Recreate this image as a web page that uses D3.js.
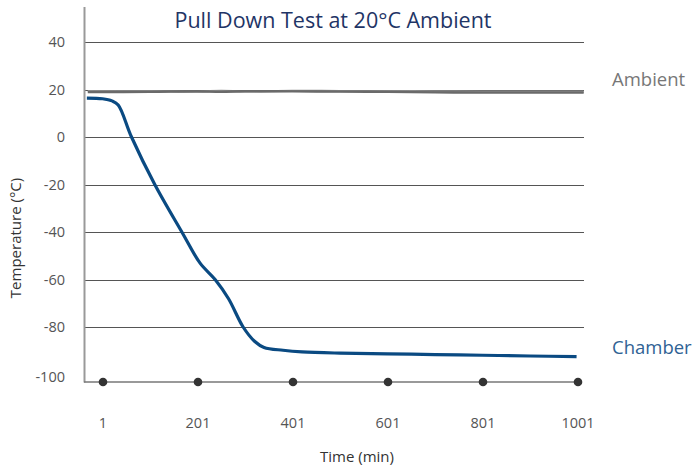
<!DOCTYPE html>
<html><head><meta charset="utf-8">
<script src="https://cdn.jsdelivr.net/npm/d3@7"></script>
<style>body{margin:0;background:#fff}svg{display:block}text{font-family:"Open Sans",sans-serif}</style>
</head><body>
<svg id="c" width="694" height="468"></svg>
<script>
const yTicks = [40, 20, 0, -20, -40, -60, -80, -100];
const xTicks = [1, 201, 401, 601, 801, 1001];
const chamberTime = [-33,0,20,33,61,110,167,205,237,265,296,320,340,380,420,500,600,700,800,900,998];
const chamberTemp = [16.4,16.1,15.2,13.5,0,-20,-40,-53,-60,-68,-80,-86,-88.6,-89.8,-90.5,-91,-91.3,-91.6,-91.9,-92.2,-92.5];
const ambientTime = [-31,100,200,250,300,400,500,600,700,800,900,1013];
const ambientA = [18.9,19.0,19.2,19.0,19.3,19.2,19.1,19.0,18.8,18.7,18.7,18.7];
const ambientB = [19.3,19.3,19.1,19.4,19.1,19.4,19.3,19.3,19.2,19.1,19.1,19.1];

const svg = d3.select("#c");
const x = d3.scaleLinear().domain([1, 1001]).range([103, 578]);
const y = d3.scaleLinear().domain([-100, 40]).range([374.5, 42]);

// gridlines
svg.append("g").selectAll("line").data(yTicks.filter(d => d > -100)).join("line")
  .attr("x1", 85).attr("x2", 584)
  .attr("y1", d => Math.round(y(d)) + 0.5).attr("y2", d => Math.round(y(d)) + 0.5)
  .attr("stroke", "#555").attr("stroke-width", 1);

// y axis line
svg.append("line").attr("x1", 84.5).attr("x2", 84.5).attr("y1", 7).attr("y2", 382.5)
  .attr("stroke", "#999").attr("stroke-width", 2);
// x axis line
svg.append("line").attr("x1", 84).attr("x2", 582).attr("y1", 382).attr("y2", 382)
  .attr("stroke", "#777").attr("stroke-width", 1.5);

// y tick labels
svg.append("g").selectAll("text").data(yTicks).join("text")
  .attr("x", 65).attr("y", d => (d === -100 ? 377 : y(d)))
  .attr("dy", "0.35em").attr("text-anchor", "end")
  .attr("font-size", 14.5).attr("fill", "#555").text(d => d);

// x tick dots and labels
svg.append("g").selectAll("circle").data(xTicks).join("circle")
  .attr("cx", d => x(d)).attr("cy", 382).attr("r", 4.3).attr("fill", "#333");
svg.append("g").selectAll("text").data(xTicks).join("text")
  .attr("x", d => x(d)).attr("y", 423).attr("dy", "0.35em").attr("text-anchor", "middle")
  .attr("font-size", 14.5).attr("fill", "#555").text(d => d);

// axis titles
svg.append("text").attr("x", 357).attr("y", 457).attr("dy", "0.35em").attr("text-anchor", "middle")
  .attr("font-size", 15).attr("fill", "#333").text("Time (min)");
svg.append("text").attr("transform", "translate(16,238) rotate(-90)").attr("dy", "0.35em")
  .attr("text-anchor", "middle").attr("font-size", 15).attr("fill", "#333").text("Temperature (°C)");

// title
svg.append("text").attr("x", 333).attr("y", 20).attr("dy", "0.35em").attr("text-anchor", "middle")
  .attr("font-size", 21.5).attr("fill", "#1f3566").text("Pull Down Test at 20°C Ambient");

const line = d3.line().x(d => x(d[0])).y(d => y(d[1])).curve(d3.curveCatmullRom.alpha(0.5));

// ambient lines
svg.append("path").attr("d", line(ambientTime.map((t, i) => [t, ambientB[i]])))
  .attr("fill", "none").attr("stroke", "#8a8a8a").attr("stroke-width", 2.4);
svg.append("path").attr("d", line(ambientTime.map((t, i) => [t, ambientA[i]])))
  .attr("fill", "none").attr("stroke", "#6a6a6a").attr("stroke-width", 2.4);

// chamber line
svg.append("path").attr("d", line(chamberTime.map((t, i) => [t, chamberTemp[i]])))
  .attr("fill", "none").attr("stroke", "#0a4a82").attr("stroke-width", 3.2)
  .attr("stroke-linejoin", "round");

// series labels
svg.append("text").attr("x", 612).attr("y", 80).attr("dy", "0.35em")
  .attr("font-size", 18.5).attr("fill", "#777").text("Ambient");
svg.append("text").attr("x", 612).attr("y", 348).attr("dy", "0.35em")
  .attr("font-size", 18.5).attr("fill", "#2f6294").text("Chamber");
</script>
</body></html>
